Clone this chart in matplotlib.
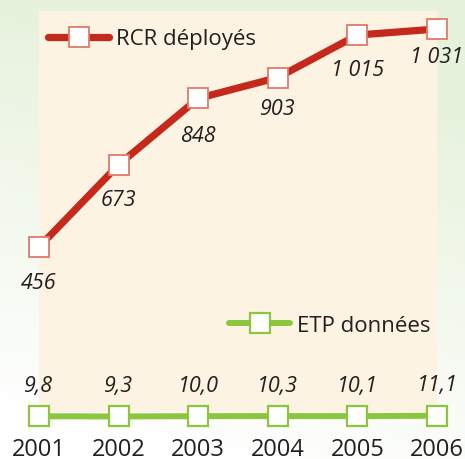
import matplotlib
matplotlib.use("Agg")
import matplotlib.pyplot as plt
import numpy as np
from matplotlib.lines import Line2D

years = [2001, 2002, 2003, 2004, 2005, 2006]
rcr = [456, 673, 848, 903, 1015, 1031]
rcr_labels = ["456", "673", "848", "903", "1 015", "1 031"]
etp = [9.8, 9.3, 10.0, 10.3, 10.1, 11.1]
etp_labels = ["9,8", "9,3", "10,0", "10,3", "10,1", "11,1"]

RED = "#c4291c"
RED_EDGE = "#e07a6c"
GREEN = "#8cc63f"
PEACH = "#fdf3e2"
TXT = "#231f20"
FONT = ["Open Sans", "DejaVu Sans"]
plt.rcParams["font.family"] = FONT

W, H = 465, 460
PT = 72 / 100  # points per pixel
fig = plt.figure(figsize=(W / 100, H / 100), dpi=100)

# background gradient
bg = fig.add_axes([0, 0, 1, 1], zorder=-10)
yy = np.linspace(0, 1, 200)[:, None]
xx = np.linspace(0, 1, 200)[None, :]
top = np.array([0.905, 0.950, 0.865])
bot = np.array([1.0, 1.0, 1.0])
t = np.clip(yy * 1.1 + 0.25 * xx - 0.1, 0, 1)[..., None]
img = bot * (1 - t) + top * t
bg.imshow(img, origin="lower", aspect="auto", extent=[0, 1, 0, 1])
bg.set_axis_off()

L, R, T, B = 39, 437, 12, 413
ax = fig.add_axes([L / W, 1 - B / H, (R - L) / W, (B - T) / H])
ax.set_facecolor(PEACH)
for s in ax.spines.values():
    s.set_visible(False)
ax.set_xlim(years[0], years[-1])
ax.set_ylim(21.0, 1078.4)
ax.set_yticks([])

ms = 14.4
ax.plot(years, rcr, color=RED, lw=5.2, marker="s", ms=ms, mfc="white",
        mec=RED_EDGE, mew=1.3, clip_on=False, zorder=5, solid_capstyle="round")
ax.plot(years, etp, color=GREEN, lw=4.3, marker="s", ms=ms, mfc="white",
        mec=GREEN, mew=1.6, clip_on=False, zorder=5, solid_capstyle="round")

red_off_px = [35, 35, 37, 31, 34, 28]
for x, v, lab, off in zip(years, rcr, rcr_labels, red_off_px):
    ax.annotate(lab, (x, v), xytext=(0, -off * PT), textcoords="offset points",
                ha="center", va="center", fontsize=15.5, style="italic",
                color=TXT, zorder=6, annotation_clip=False)
for x, v, lab in zip(years, etp, etp_labels):
    ax.annotate(lab, (x, v), xytext=(0, 31 * PT), textcoords="offset points",
                ha="center", va="center", fontsize=15.5, style="italic",
                color=TXT, zorder=6, annotation_clip=False)

ax.set_xticks(years)
ax.set_xticklabels([str(y) for y in years], fontsize=17, color=TXT)
ax.tick_params(axis="x", length=0, pad=18)

h1 = Line2D([], [], color=RED, lw=5.2, marker="s", ms=ms, mfc="white",
            mec=RED_EDGE, mew=1.3, solid_capstyle="round")
h2 = Line2D([], [], color=GREEN, lw=4.3, marker="s", ms=ms, mfc="white",
            mec=GREEN, mew=1.6, solid_capstyle="round")
leg1 = fig.legend([h1], ["RCR déployés"], loc="center left",
                  bbox_to_anchor=(48 / W, 1 - 40 / H), frameon=False,
                  borderpad=0, borderaxespad=0, handlelength=2.75,
                  handletextpad=0.3, fontsize=16, labelcolor=TXT)
leg2 = fig.legend([h2], ["ETP données"], loc="center left",
                  bbox_to_anchor=(229 / W, 1 - 326 / H), frameon=False,
                  borderpad=0, borderaxespad=0, handlelength=2.75,
                  handletextpad=0.3, fontsize=16, labelcolor=TXT)

fig.savefig("out.png", dpi=100)
